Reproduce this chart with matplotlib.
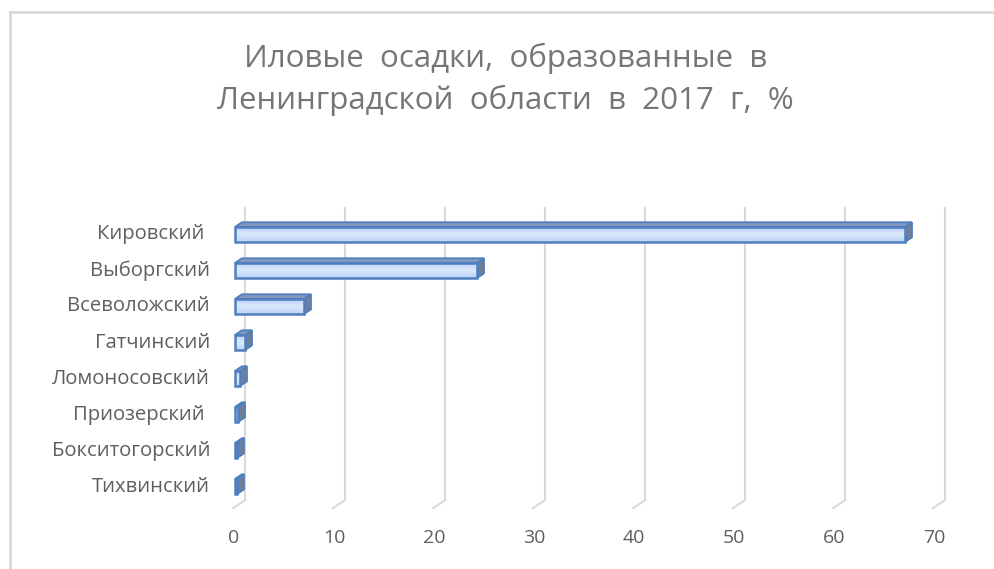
import numpy as np
import matplotlib.pyplot as plt
from matplotlib.patches import Polygon, Rectangle
from matplotlib.lines import Line2D
from matplotlib.colors import LinearSegmentedColormap

# данные
районы = ['Кировский ', 'Выборгский', 'Всеволожский', 'Гатчинский',
          'Ломоносовский', 'Приозерский ', 'Бокситогорский', 'Тихвинский']
доля = [67.0, 24.2, 6.9, 1.0, 0.5, 0.3, 0.2, 0.2]
деления = [0, 10, 20, 30, 40, 50, 60, 70]
заголовок = 'Иловые  осадки,  образованные  в\nЛенинградской  области  в  2017  г,  %'

серый = '#5f5f5f'
plt.rcParams['font.family'] = ['Open Sans', 'DejaVu Sans']

fig = plt.figure(figsize=(9.95, 5.69), dpi=100)
# рамка
fig.add_artist(Line2D([10/995, 10/995], [0, 1 - 12/569], color='#d9d9d9', lw=2))
fig.add_artist(Line2D([10/995, 1], [1 - 12/569, 1 - 12/569], color='#d9d9d9', lw=2))

fig.text(0.508, 1 - 79/569, заголовок, ha='center', va='center', fontsize=22.5,
         color='#767676', linespacing=1.45)

ax = fig.add_axes([220/995, (569-520)/569, 740/995, 320/569])
ax.set_xlim(-1.3, 72.7)
ax.set_ylim(7.93, -0.958)
ax.axis('off')

# глубина 3D (в единицах данных)
gx, gy = 1.2, -0.22     # пол / сетка
y_floor = 7.6
y_top = -0.74

for t in деления:
    ax.plot([t + gx, t + gx], [y_top, y_floor + gy], color='#d9d9d9', lw=1.5, zorder=1)
    ax.plot([t, t + gx], [y_floor, y_floor + gy], color='#d9d9d9', lw=1.5, zorder=1)
    ax.text(t + 0.1, y_floor + 0.82, str(t), ha='center', va='center', fontsize=14,
            color=серый)

bx, by = 0.7, -0.13     # глубина столбца
ox = 0.2
h = 0.42
grad = np.linspace(0, 1, 50).reshape(-1, 1)
cmap = LinearSegmentedColormap.from_list('g', ['#b3cdf4', '#dce9fc', '#bcd3f6'])

for i, (name, v) in enumerate(zip(районы, доля)):
    x0 = ox
    x1 = ox + v
    y0 = i - h / 2
    y1 = i + h / 2
    top = Polygon([[x0, y0], [x0 + bx, y0 + by], [x1 + bx, y0 + by], [x1, y0]],
                  closed=True, fc='#8299bb', ec='#4f7fc0', lw=1.3, zorder=3)
    side = Polygon([[x1, y0], [x1 + bx, y0 + by], [x1 + bx, y1 + by], [x1, y1]],
                   closed=True, fc='#6f7f98', ec='#4f7fc0', lw=1.3, zorder=3)
    ax.add_patch(top)
    ax.add_patch(side)
    im = ax.imshow(grad, cmap=cmap, aspect='auto', extent=[x0, x1, y1, y0], zorder=4)
    front = Rectangle((x0, y0), v, h, fc='none', ec='#4f7fc0', lw=1.8, zorder=5)
    ax.add_patch(front)
    im.set_clip_path(front)
    ax.text(-2.3, i, name, ha='right', va='center', fontsize=14.6, color=серый)

ax.set_xlim(-1.3, 72.7)
ax.set_ylim(7.93, -0.958)

fig.savefig('out.png', dpi=100)
